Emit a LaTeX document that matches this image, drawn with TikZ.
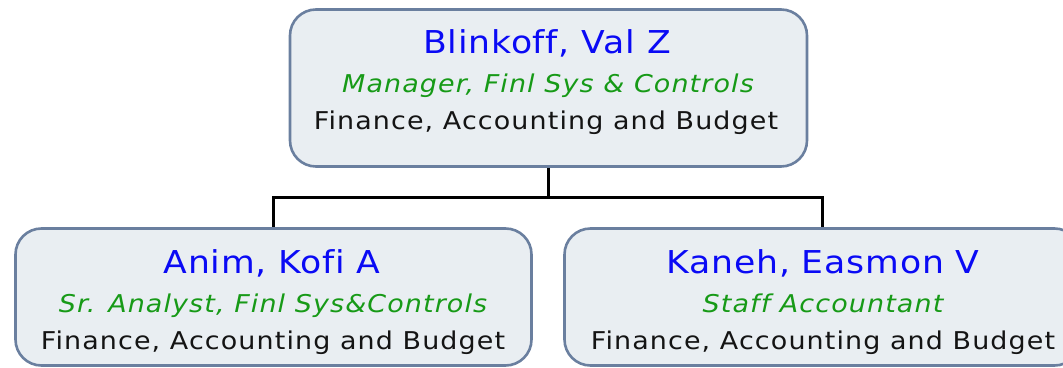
\documentclass[tikz,border=0pt]{standalone}
\usepackage{fontspec}
\setmainfont{DejaVu Sans}
\newfontfamily\namefont{DejaVu Sans}[FakeStretch=1.1, LetterSpace=2.5, Ligatures=NoCommon]
\newfontfamily\linefont{DejaVu Sans}[FakeStretch=1.1, LetterSpace=4.5, Ligatures=NoCommon]
\definecolor{boxfill}{HTML}{E9EEF2}
\definecolor{boxline}{HTML}{6A7F9F}
\definecolor{namecol}{HTML}{0A0AF5}
\definecolor{titlecol}{HTML}{179A17}
\definecolor{deptcol}{HTML}{141414}
\tikzset{
  person/.style={draw=boxline, fill=boxfill, line width=2.6pt, rounded corners=26pt, inner sep=0pt},
  nametext/.style={anchor=base, inner sep=0pt, text=namecol, font=\namefont\fontsize{31.5}{36}\selectfont},
  titletext/.style={anchor=base, inner sep=0pt, text=titlecol, font=\linefont\itshape\fontsize{24.5}{28}\selectfont},
  depttext/.style={anchor=base, inner sep=0pt, text=deptcol, font=\linefont\fontsize{24.5}{28}\selectfont},
  link/.style={draw=black, line width=2.6pt}
}
\begin{document}
\begin{tikzpicture}[x=1pt, y=-1pt]
\useasboundingbox (0,0) rectangle (1063,367);
\clip (0,0) rectangle (1063,367);
% boxes
\node[person, minimum width=517pt, minimum height=157pt] (top) at (548.5,88) {};
\node[person, minimum width=516pt, minimum height=137pt] (left) at (273.5,297) {};
\node[person, minimum width=516pt, minimum height=137pt] (right) at (822.5,297) {};
% connectors
\coordinate (bus) at (548.5,197.5);
\draw[link] (top.south) -- (bus) -| (left.north);
\draw[link] (bus) -| (right.north);
% texts
\node[nametext] (topname) at (547,53) {Blinkoff, Val Z};
\node[titletext] (toptitle) at (548,92) {Manager, Finl Sys \& Controls};
\node[depttext] (topdept) at (546,129) {Finance, Accounting and Budget};
\node[nametext] (leftname) at (272,273) {Anim, Kofi A};
\node[titletext] (lefttitle) at (273,312) {Sr. Analyst, Finl Sys\&Controls};
\node[depttext] (leftdept) at (273,349) {Finance, Accounting and Budget};
\node[nametext] (rightname) at (823,273) {Kaneh, Easmon V};
\node[titletext] (righttitle) at (823,312) {Staff Accountant};
\node[depttext] (rightdept) at (823,349) {Finance, Accounting and Budget};
\end{tikzpicture}
\end{document}
